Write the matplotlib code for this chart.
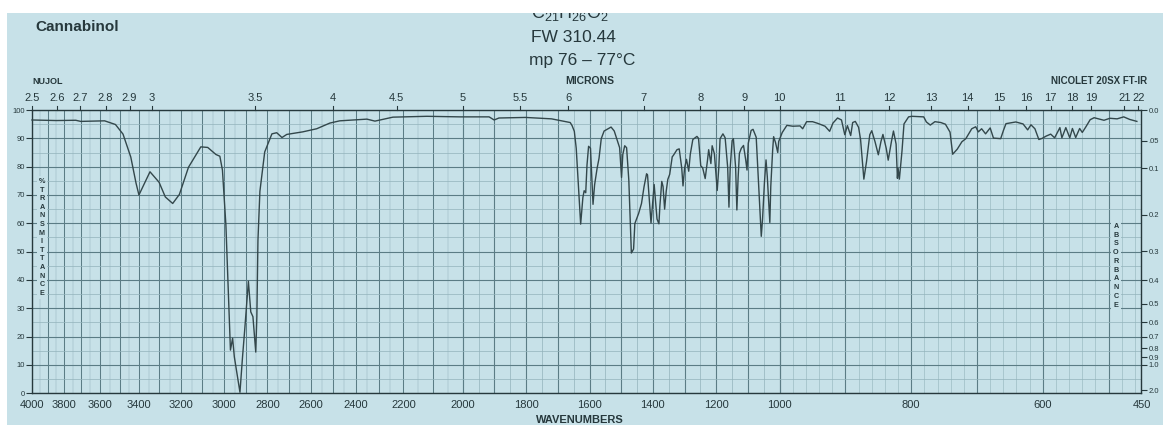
import numpy as np
import matplotlib
matplotlib.use("Agg")
import matplotlib.pyplot as plt
from matplotlib.patches import Rectangle

# ---------------- data ----------------
wavenumber = [4000, 3850, 3730, 3700, 3577, 3521, 3482, 3442, 3415, 3400, 3378, 3343, 3300, 3271,
              3237, 3206, 3164, 3107, 3075, 3037, 3019, 3007, 2991, 2970, 2960, 2952, 2926, 2914,
              2904, 2887, 2876, 2866, 2853, 2848, 2843, 2834, 2812, 2779, 2757, 2733, 2711, 2638,
              2574, 2514, 2470, 2352, 2317, 2239, 2121, 2010, 1917, 1901, 1886, 1802, 1720, 1661,
              1655, 1648, 1642, 1628, 1621, 1617, 1612, 1608, 1603, 1597, 1589, 1584, 1576, 1570,
              1563, 1554, 1532, 1522, 1512, 1505, 1499, 1495, 1489, 1483, 1476, 1468, 1461, 1457,
              1445, 1436, 1428, 1420, 1417, 1406, 1399, 1396, 1387, 1381, 1378, 1372, 1368, 1363,
              1358, 1353, 1347, 1339, 1336, 1324, 1317, 1309, 1305, 1300, 1294, 1287, 1282, 1274,
              1261, 1256, 1249, 1243, 1235, 1228, 1224, 1217, 1213, 1206, 1197, 1192, 1188, 1179,
              1172, 1164, 1160, 1156, 1150, 1146, 1139, 1135, 1131, 1127, 1121, 1114, 1107, 1103,
              1099, 1090, 1084, 1074, 1066, 1058, 1054, 1048, 1043, 1039, 1031, 1028, 1022, 1019,
              1013, 1006, 1003, 996, 989, 980, 969, 965, 959, 950, 942, 931, 924, 919, 912, 906,
              901, 897, 892, 889, 885, 880, 877, 872, 868, 863, 860, 855, 850, 846, 843, 838, 835,
              830, 827, 823, 821, 820, 818, 814, 811, 804, 799, 781, 777, 771, 764, 755, 748, 741,
              737, 733, 730, 723, 717, 708, 702, 698, 693, 687, 680, 675, 664, 660, 656, 641, 630,
              623, 618, 612, 606, 601, 595, 588, 582, 574, 571, 565, 559, 555, 550, 544, 540, 535,
              528, 522, 507, 498, 487, 477, 468, 457]
transmittance = [96.5, 96.3, 96.4, 96.0, 96.2, 94.9, 91.5, 83.4, 74.2, 70.0, 73.2, 78.2, 74.5, 69.3,
                 67.0, 70.2, 79.8, 87.0, 86.8, 84.3, 83.7, 78.8, 59.4, 15.2, 19.4, 12.8, 0.3, 12.9,
                 22.4, 39.5, 28.7, 27.0, 14.5, 27.0, 53.9, 71.3, 85.2, 91.6, 92.0, 90.3, 91.4, 92.3,
                 93.4, 95.4, 96.2, 96.8, 96.1, 97.5, 97.8, 97.6, 97.6, 96.5, 97.2, 97.4, 96.9, 95.6,
                 94.5, 92.5, 86.5, 59.7, 69.1, 71.5, 70.8, 80.6, 87.2, 86.5, 66.7, 73.6, 79.5, 83.0,
                 89.9, 92.6, 94.0, 92.6, 89.1, 86.7, 76.2, 84.3, 87.4, 86.7, 75.2, 49.5, 50.9, 59.9,
                 63.5, 67.0, 72.9, 77.5, 77.1, 60.1, 69.5, 73.7, 61.5, 59.8, 66.1, 74.8, 73.0, 65.0,
                 71.3, 75.5, 77.3, 83.5, 83.9, 86.0, 86.3, 79.5, 73.2, 79.5, 82.6, 78.4, 84.4, 89.6,
                 90.7, 90.0, 80.3, 79.6, 75.8, 82.0, 86.0, 81.1, 87.4, 84.6, 71.6, 79.7, 89.9, 91.6,
                 90.2, 79.7, 65.7, 79.7, 89.2, 89.9, 79.8, 64.7, 76.3, 84.7, 86.5, 87.5, 82.3, 78.8,
                 88.3, 92.8, 93.2, 90.4, 72.9, 55.4, 61.4, 74.4, 82.4, 76.5, 60.3, 73.0, 86.0, 90.6,
                 88.5, 85.0, 88.9, 92.1, 94.6, 94.3, 94.4, 93.4, 95.9, 95.9, 95.3, 94.3, 92.5, 95.4,
                 97.2, 96.5, 91.3, 94.5, 91.0, 95.6, 96.0, 93.9, 89.6, 75.6, 81.7, 91.3, 92.7, 88.8,
                 84.2, 88.9, 91.4, 86.5, 82.3, 89.0, 92.6, 88.0, 75.9, 79.5, 75.6, 85.6, 95.1, 97.6,
                 97.8, 97.6, 95.8, 94.7, 95.9, 95.6, 95.0, 92.2, 84.4, 85.4, 86.2, 88.8, 89.9, 93.4,
                 94.1, 92.3, 93.4, 91.6, 93.7, 90.1, 89.9, 92.7, 95.2, 95.8, 95.1, 93.0, 94.8, 93.4,
                 89.6, 90.0, 90.8, 91.5, 90.2, 93.8, 90.2, 93.8, 90.2, 93.5, 90.3, 93.5, 92.1, 93.9,
                 96.6, 97.3, 96.4, 97.1, 96.9, 97.6, 96.7, 96.0]

wavenumber_ticks = [4000, 3800, 3600, 3400, 3200, 3000, 2800, 2600, 2400, 2200, 2000,
                    1800, 1600, 1400, 1200, 1000, 800, 600, 450]
micron_ticks = [2.5, 2.6, 2.7, 2.8, 2.9, 3, 3.5, 4, 4.5, 5, 5.5, 6, 7, 8, 9, 10,
                11, 12, 13, 14, 15, 16, 17, 18, 19, 21, 22]
percent_ticks = [0, 10, 20, 30, 40, 50, 60, 70, 80, 90, 100]
absorbance_ticks = [0.0, 0.05, 0.1, 0.2, 0.3, 0.4, 0.5, 0.6, 0.7, 0.8, 0.9, 1.0, 2.0]
absorbance_labels = ["0.0", ".05", "0.1", "0.2", "0.3", "0.4", "0.5", "0.6", "0.7",
                     "0.8", "0.9", "1.0", "2.0"]

# ---------------- style ----------------
PAPER = "#c7e1e8"
INK = "#26383c"
GRID_MAJ = "#5b7c85"
GRID_MIN = "#92b3bb"
TRACE = "#33474b"
FONT = "Liberation Sans"

plt.rcParams["font.family"] = [FONT, "DejaVu Sans"]
plt.rcParams["mathtext.fontset"] = "custom"
plt.rcParams["mathtext.rm"] = FONT
plt.rcParams["mathtext.it"] = FONT

fig = plt.figure(figsize=(11.63, 4.25), dpi=100, facecolor=PAPER)
ax = fig.add_axes([0.0275, 0.075, 0.954, 0.666], facecolor=PAPER)

# chart-paper wavenumber scale as it appears on the (curved) page
scale_wn = [450, 1000, 2000, 2222, 2500, 2857, 3333, 3704, 4000]
scale_px = [1110, 748, 431, 365, 301, 223, 120, 48, 0]


def fwd(x):
    return 1110 - np.interp(x, scale_wn, scale_px)


def inv(p):
    return np.interp(1110 - np.asarray(p), scale_px[::-1], scale_wn[::-1])


ax.set_xscale("function", functions=(fwd, inv))
ax.set_xlim(4000, 450)
ax.set_ylim(0, 100)

# grid
for v in np.arange(4000, 1999, -50):
    major = (v % 100 == 0)
    ax.axvline(v, color=GRID_MAJ if major else GRID_MIN, lw=0.75 if major else 0.35, zorder=1)
for v in np.arange(2000, 999, -50):
    major = (v % 100 == 0)
    ax.axvline(v, color=GRID_MAJ if major else GRID_MIN, lw=0.8 if major else 0.5, zorder=1)
for v in np.arange(1000, 449, -20):
    major = (v % 100 == 0)
    ax.axvline(v, color=GRID_MAJ if major else GRID_MIN, lw=0.8 if major else 0.4, zorder=1)
for h in np.arange(0, 101, 5):
    major = (h % 10 == 0)
    ax.axhline(h, color=GRID_MAJ if major else GRID_MIN, lw=0.8 if major else 0.5, zorder=1)

# spectrum
ax.plot(wavenumber, transmittance, color=TRACE, lw=1.0, zorder=5, clip_on=False)

# axes frame
for s in ax.spines.values():
    s.set_color(INK)
    s.set_linewidth(1.0)

ax.set_xticks(wavenumber_ticks)
ax.set_xticklabels([str(t) for t in wavenumber_ticks])
ax.minorticks_off()
ax.tick_params(axis="x", length=0, pad=5, labelsize=8, colors=INK)
ax.set_yticks(percent_ticks)
ax.set_yticklabels([str(t) for t in percent_ticks])
ax.tick_params(axis="y", length=4, width=0.8, pad=1, labelsize=5.5, colors=INK)

# absorbance axis on the right
ax2 = ax.twinx()
ax2.set_ylim(0, 100)
ax2.set_yticks([100 * 10 ** (-a) for a in absorbance_ticks])
ax2.set_yticklabels(absorbance_labels)
ax2.tick_params(axis="y", length=4, width=0.8, pad=1, labelsize=5.5, colors=INK)
for s in ax2.spines.values():
    s.set_visible(False)

# microns on top
xt = ax.get_xaxis_transform()
for m in micron_ticks:
    w = 10000.0 / m
    ax.plot([w, w], [1.0, 1.015], transform=xt, color=INK, lw=0.8, clip_on=False)
    ax.text(w, 1.025, "%g" % m, transform=xt, ha="center", va="bottom", fontsize=8, color=INK)

# in-chart labels
box = dict(facecolor=PAPER, edgecolor="none", pad=1.5)
ax.text(0.009, 0.55, "\n".join("%TRANSMITTANCE"), transform=ax.transAxes, ha="center",
        va="center", fontsize=5.2, fontweight="bold", linespacing=1.32, color=INK,
        bbox=box, zorder=6)
ax.text(0.977, 0.45, "\n".join("ABSORBANCE"), transform=ax.transAxes, ha="center",
        va="center", fontsize=5.2, fontweight="bold", linespacing=1.35, color=INK,
        bbox=box, zorder=6)

ax.text(0.0, 1.085, "NUJOL", transform=ax.transAxes, ha="left", va="bottom",
        fontsize=6.5, fontweight="bold", color=INK)
ax.text(0.503, 1.085, "MICRONS", transform=ax.transAxes, ha="center", va="bottom",
        fontsize=7.5, fontweight="bold", color=INK)
ax.text(1.005, 1.085, "NICOLET 20SX FT-IR", transform=ax.transAxes, ha="right", va="bottom",
        fontsize=7, fontweight="bold", color=INK)

# header texts
fig.text(0.030, 0.936, "Cannabinol", ha="left", va="center", fontsize=11,
         fontweight="bold", color=INK)
fig.text(0.457, 0.957, r"C$_{21}$H$_{26}$O$_{2}$", ha="left", va="baseline",
         fontsize=13, color=INK)
fig.text(0.457, 0.912, "FW 310.44", ha="left", va="center", fontsize=12.5, color=INK)
fig.text(0.455, 0.858, "mp 76 \u2013 77\u00b0C", ha="left", va="center", fontsize=12.5,
         color=INK)
fig.text(0.499, 0.012, "WAVENUMBERS", ha="center", va="center", fontsize=8,
         fontweight="bold", color=INK)

# white photo border (top and left)
fig.add_artist(Rectangle((0, 0.969), 1, 0.031, transform=fig.transFigure,
                         facecolor="white", edgecolor="none", zorder=20))
fig.add_artist(Rectangle((0, 0), 0.006, 1, transform=fig.transFigure,
                         facecolor="white", edgecolor="none", zorder=20))

fig.savefig("out.png", dpi=100, facecolor=PAPER)
